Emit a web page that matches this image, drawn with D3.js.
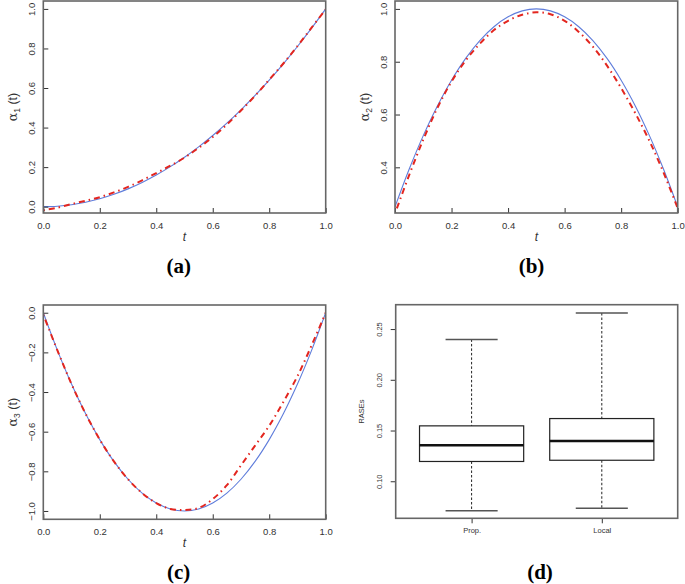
<!DOCTYPE html>
<html>
<head>
<meta charset="utf-8">
<script src="https://cdn.jsdelivr.net/npm/d3@7"></script>
<style>
	body { margin: 0; background: #fff; }
	svg { display: block; font-family: "Liberation Sans", Arial, sans-serif; }
</style>
</head>
<body>
<div id="chart"></div>
<script>
//--------------------------------------------------
// dati
//--------------------------------------------------

var tGrid = [0, 0.05, 0.1, 0.15, 0.2, 0.25, 0.3, 0.35, 0.4, 0.45, 0.5, 0.55, 0.6, 0.65, 0.7, 0.75, 0.8, 0.85, 0.9, 0.95, 1]

var alpha1True = [0, 0.0025, 0.01, 0.0225, 0.04, 0.0625, 0.09, 0.1225, 0.16, 0.2025, 0.25, 0.3025, 0.36, 0.4225, 0.49, 0.5625, 0.64, 0.7225, 0.81, 0.9025, 1]
var alpha1Est  = [-0.018, -0.005, 0.013, 0.03, 0.048, 0.072, 0.1, 0.133, 0.17, 0.207, 0.248, 0.297, 0.352, 0.415, 0.486, 0.561, 0.642, 0.724, 0.812, 0.905, 0.998]

var alpha2True = [0.25, 0.3925, 0.52, 0.6325, 0.73, 0.8125, 0.88, 0.9325, 0.97, 0.9925, 1, 0.9925, 0.97, 0.9325, 0.88, 0.8125, 0.73, 0.6325, 0.52, 0.3925, 0.25]
var alpha2Est  = [0.225, 0.37, 0.505, 0.625, 0.725, 0.805, 0.868, 0.92, 0.955, 0.978, 0.987, 0.98, 0.955, 0.913, 0.857, 0.785, 0.70, 0.605, 0.50, 0.38, 0.245]

var alpha3True = [0, -0.19, -0.36, -0.51, -0.64, -0.75, -0.84, -0.91, -0.96, -0.99, -1, -0.99, -0.96, -0.91, -0.84, -0.75, -0.64, -0.51, -0.36, -0.19, 0]
var alpha3Est  = [-0.01, -0.19, -0.36, -0.51, -0.64, -0.75, -0.84, -0.91, -0.96, -0.99, -0.995, -0.985, -0.94, -0.87, -0.77, -0.67, -0.57, -0.45, -0.32, -0.165, 0]

var xTicks = [0, 0.2, 0.4, 0.6, 0.8, 1]
var y1Ticks = [0, 0.2, 0.4, 0.6, 0.8, 1]
var y2Ticks = [0.4, 0.6, 0.8, 1]
var y3Ticks = [0, -0.2, -0.4, -0.6, -0.8, -1]

// boxplot RASEs
var groups = ["Prop.", "Local"]
var raseMin = [0.071, 0.0735]
var raseQ1  = [0.1195, 0.1207]
var raseMed = [0.1355, 0.1397]
var raseQ3  = [0.1546, 0.1618]
var raseMax = [0.2398, 0.2658]
var raseTicks = [0.10, 0.15, 0.20, 0.25]

//--------------------------------------------------
// svg
//--------------------------------------------------

var width = 685,
	height = 584

var blue = "#5f7ddb",
	red = "#e3261f",
	frameCol = "#666666",
	textCol = "#333333",
	serif = "'Liberation Serif', 'Times New Roman', Times, serif"

var svg = d3.select("#chart").append("svg")
	.attr("width", width)
	.attr("height", height)

var defs = svg.append("defs")

function curvePanel(p) {
	var x = d3.scaleLinear().domain([0, 1]).range([p.left, p.right])
	var y = d3.scaleLinear().domain(p.yDomain).range([p.bottom, p.top])

	var g = svg.append("g").attr("class", "panel " + p.id)

	defs.append("clipPath").attr("id", "clip-" + p.id)
		.append("rect")
		.attr("x", p.left).attr("y", p.top)
		.attr("width", p.right - p.left).attr("height", p.bottom - p.top)

	var line = d3.line()
		.x(function(d) { return x(d[0]) })
		.y(function(d) { return y(d[1]) })
		.curve(d3.curveCatmullRom)

	var plot = g.append("g").attr("clip-path", "url(#clip-" + p.id + ")")

	plot.append("path")
		.datum(tGrid.map(function(t, i) { return [t, p.trueVals[i]] }))
		.attr("d", line)
		.attr("fill", "none")
		.attr("stroke", blue)
		.attr("stroke-width", 1.1)

	plot.append("path")
		.datum(tGrid.map(function(t, i) { return [t, p.estVals[i]] }))
		.attr("d", line)
		.attr("fill", "none")
		.attr("stroke", red)
		.attr("stroke-width", 2)
		.attr("stroke-dasharray", "1.5,4,6,4")

	// asse x (tick verso l'interno)
	var ax = g.append("g")
		.attr("transform", "translate(0," + p.bottom + ")")
		.call(d3.axisBottom(x).tickValues(xTicks).tickSize(-5).tickFormat(d3.format(".1f")))
	ax.select(".domain").remove()
	ax.selectAll("line").attr("stroke", textCol)
	ax.selectAll("text")
		.attr("y", 9)
		.attr("fill", textCol)
		.style("font-size", "9.5px")

	// asse y, etichette ruotate
	var ay = g.append("g")
		.attr("transform", "translate(" + p.left + ",0)")
		.call(d3.axisLeft(y).tickValues(p.yTicks).tickSize(-5)
			.tickFormat(function(d) { return d3.format(".1f")(d).replace("-", "\u2212") }))
	ay.select(".domain").remove()
	ay.selectAll("line").attr("stroke", textCol)
	ay.selectAll("text")
		.attr("transform", "rotate(-90)")
		.attr("x", 0)
		.attr("y", -8)
		.attr("dy", 0)
		.attr("text-anchor", "middle")
		.attr("fill", textCol)
		.style("font-size", "9.5px")

	// cornice
	g.append("rect")
		.attr("x", p.left).attr("y", p.top)
		.attr("width", p.right - p.left).attr("height", p.bottom - p.top)
		.attr("fill", "none")
		.attr("stroke", frameCol)
		.attr("stroke-width", 1.6)

	// etichette
	g.append("text")
		.attr("x", (p.left + p.right) / 2)
		.attr("y", p.bottom + 28)
		.attr("text-anchor", "middle")
		.attr("fill", textCol)
		.style("font-size", "12px")
		.style("font-style", "italic")
		.text("t")

	var yl = g.append("text")
		.attr("transform", "translate(" + p.ylabX + "," + ((p.top + p.bottom) / 2) + ") rotate(-90)")
		.attr("text-anchor", "middle")
		.attr("fill", textCol)
		.style("font-size", "12.5px")
	yl.append("tspan").style("font-family", "'DejaVu Serif', serif").text("\u03b1")
	yl.append("tspan").attr("dy", 3).style("font-size", "8.5px").text(p.sub)
	yl.append("tspan").attr("dy", -3).text(" (t)")

	g.append("text")
		.attr("x", p.labX)
		.attr("y", p.bottom + 60)
		.attr("text-anchor", "middle")
		.attr("font-family", serif)
		.attr("font-weight", "bold")
		.attr("font-size", 21)
		.attr("fill", "#000")
		.text(p.label)
}

curvePanel({id: "a", left: 43.3, right: 325.7, top: 1, bottom: 213, yDomain: [-0.032, 1.04],
	trueVals: alpha1True, estVals: alpha1Est, yTicks: y1Ticks, sub: "1", ylabX: 17, labX: 178.7, label: "(a)"})

curvePanel({id: "b", left: 395, right: 677.7, top: 1, bottom: 213, yDomain: [0.227, 1.03],
	trueVals: alpha2True, estVals: alpha2Est, yTicks: y2Ticks, sub: "2", ylabX: 369, labX: 531.5, label: "(b)"})

curvePanel({id: "c", left: 43.3, right: 325.7, top: 305, bottom: 519.3, yDomain: [-1.042, 0.039],
	trueVals: alpha3True, estVals: alpha3Est, yTicks: y3Ticks, sub: "3", ylabX: 17, labX: 178.7, label: "(c)"})

//--------------------------------------------------
// pannello (d): boxplot
//--------------------------------------------------

var dBox = {left: 395.7, right: 677.7, top: 304.7, bottom: 518.3}

var xb = d3.scaleLinear().domain([0.417, 2.583]).range([dBox.left, dBox.right])
var yb = d3.scaleLinear().domain([0.0635, 0.274]).range([dBox.bottom, dBox.top])

var gd = svg.append("g").attr("class", "panel d")

var stats = groups.map(function(name, i) {
	return {name: name, pos: i + 1, min: raseMin[i], q1: raseQ1[i], med: raseMed[i], q3: raseQ3[i], max: raseMax[i]}
})

var bx = gd.selectAll("g.box")
	.data(stats)
	.enter()
	.append("g")
	.attr("class", "box")

// baffi tratteggiati
bx.append("line")
	.attr("x1", function(d) { return xb(d.pos) }).attr("x2", function(d) { return xb(d.pos) })
	.attr("y1", function(d) { return yb(d.max) }).attr("y2", function(d) { return yb(d.q3) })
	.attr("stroke", "#222").attr("stroke-width", 1).attr("stroke-dasharray", "2.5,2")
bx.append("line")
	.attr("x1", function(d) { return xb(d.pos) }).attr("x2", function(d) { return xb(d.pos) })
	.attr("y1", function(d) { return yb(d.q1) }).attr("y2", function(d) { return yb(d.min) })
	.attr("stroke", "#222").attr("stroke-width", 1).attr("stroke-dasharray", "2.5,2")

// estremi
bx.selectAll("line.cap")
	.data(function(d) { return [[d.pos, d.max], [d.pos, d.min]] })
	.enter()
	.append("line")
	.attr("class", "cap")
	.attr("x1", function(d) { return xb(d[0] - 0.2) }).attr("x2", function(d) { return xb(d[0] + 0.2) })
	.attr("y1", function(d) { return yb(d[1]) }).attr("y2", function(d) { return yb(d[1]) })
	.attr("stroke", "#555").attr("stroke-width", 1.5)

bx.append("rect")
	.attr("x", function(d) { return xb(d.pos - 0.4) })
	.attr("y", function(d) { return yb(d.q3) })
	.attr("width", function(d) { return xb(d.pos + 0.4) - xb(d.pos - 0.4) })
	.attr("height", function(d) { return yb(d.q1) - yb(d.q3) })
	.attr("fill", "#fff")
	.attr("stroke", "#222")
	.attr("stroke-width", 1.2)

bx.append("line")
	.attr("x1", function(d) { return xb(d.pos - 0.4) }).attr("x2", function(d) { return xb(d.pos + 0.4) })
	.attr("y1", function(d) { return yb(d.med) }).attr("y2", function(d) { return yb(d.med) })
	.attr("stroke", "#111").attr("stroke-width", 2.4)

// assi
var axd = gd.append("g")
	.attr("transform", "translate(0," + dBox.bottom + ")")
	.call(d3.axisBottom(xb).tickValues([1, 2]).tickSize(5).tickFormat(function(d) { return groups[d - 1] }))
axd.select(".domain").remove()
axd.selectAll("line").attr("stroke", textCol)
axd.selectAll("text").attr("y", 9).attr("fill", textCol).style("font-size", "7.5px")

var ayd = gd.append("g")
	.attr("transform", "translate(" + dBox.left + ",0)")
	.call(d3.axisLeft(yb).tickValues(raseTicks).tickSize(5).tickFormat(d3.format(".2f")))
ayd.select(".domain").remove()
ayd.selectAll("line").attr("stroke", textCol)
ayd.selectAll("text")
	.attr("transform", "rotate(-90)")
	.attr("x", 0)
	.attr("y", -14)
	.attr("dy", 0)
	.attr("text-anchor", "middle")
	.attr("fill", textCol)
	.style("font-size", "7.5px")

gd.append("rect")
	.attr("x", dBox.left).attr("y", dBox.top)
	.attr("width", dBox.right - dBox.left).attr("height", dBox.bottom - dBox.top)
	.attr("fill", "none")
	.attr("stroke", frameCol)
	.attr("stroke-width", 1.6)

gd.append("text")
	.attr("transform", "translate(364," + ((dBox.top + dBox.bottom) / 2) + ") rotate(-90)")
	.attr("text-anchor", "middle")
	.attr("fill", textCol)
	.style("font-size", "7.5px")
	.text("RASEs")

gd.append("text")
	.attr("x", 540)
	.attr("y", dBox.bottom + 61)
	.attr("text-anchor", "middle")
	.attr("font-family", serif)
	.attr("font-weight", "bold")
	.attr("font-size", 21)
	.text("(d)")
</script>
</body>
</html>
